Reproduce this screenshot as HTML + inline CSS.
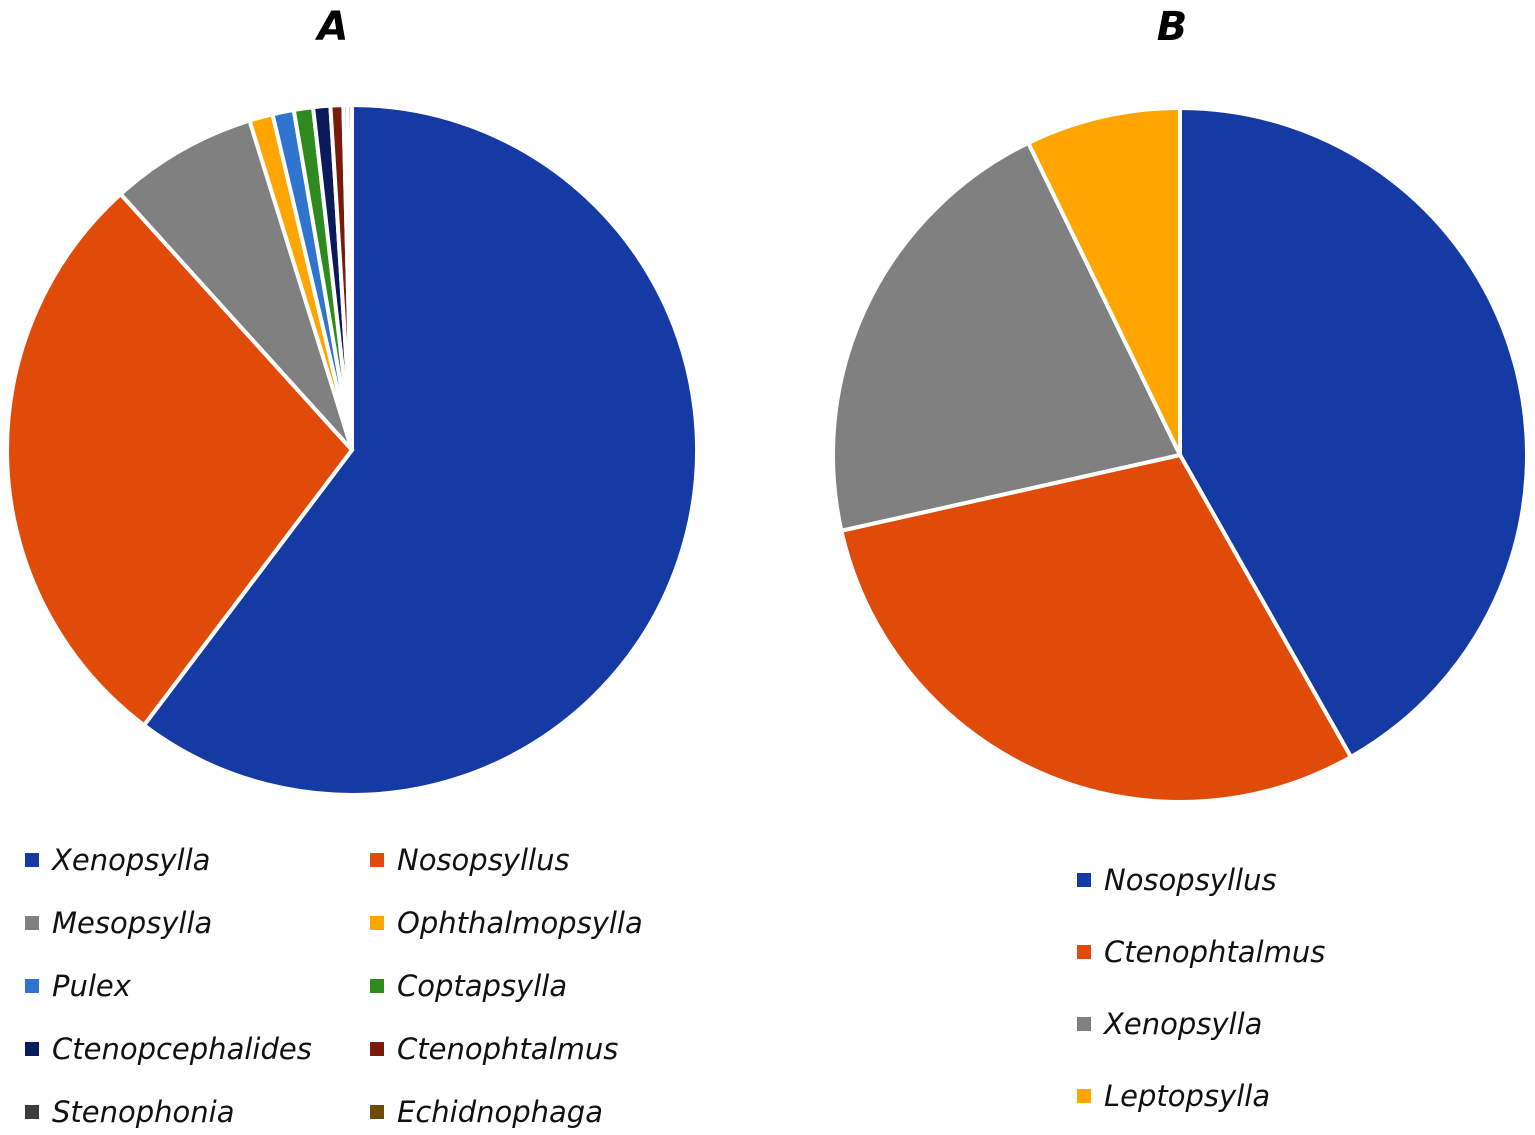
<!DOCTYPE html>
<html><head><meta charset="utf-8"><style>
body{margin:0;background:#fff;}
svg{display:block;font-family:"DejaVu Sans","Liberation Sans",sans-serif;}
</style></head><body>
<svg id="c" width="1535" height="1135">
<text x="333" y="40" font-size="40" font-weight="bold" font-style="italic" text-anchor="middle">A</text>
<text x="1172" y="40" font-size="40" font-weight="bold" font-style="italic" text-anchor="middle">B</text>
<g id="pa"></g>
<g id="pb"></g>
<g id="la"></g>
<g id="lb"></g>
</svg>
<script>
const catsA=["Xenopsylla","Nosopsyllus","Mesopsylla","Ophthalmopsylla","Pulex","Coptapsylla","Ctenopcephalides","Ctenophtalmus","Stenophonia","Echidnophaga"];
const valsA=[60.3,28.0,6.9,1.1,1.0,0.9,0.8,0.6,0.2,0.2];
const colsA=["#163aa3","#e04b0a","#808080","#ffa500","#2f75d0","#2e8a1c","#0b1a5a","#7a1a0a","#3c3c3c","#704a0a"];
const catsB=["Nosopsyllus","Ctenophtalmus","Xenopsylla","Leptopsylla"];
const valsB=[41.8,29.7,21.3,7.2];
const colsB=["#163aa3","#e04b0a","#808080","#ffa500"];
const NS="http://www.w3.org/2000/svg";
function pie(g,vals,cols,cx,cy,r,names){
  const tot=vals.reduce((a,b)=>a+b,0);let a0=0;
  vals.forEach((v,i)=>{
    const a1=a0+v/tot*2*Math.PI;
    const p=document.createElementNS(NS,"path");
    const x0=cx+r*Math.sin(a0),y0=cy-r*Math.cos(a0),x1=cx+r*Math.sin(a1),y1=cy-r*Math.cos(a1);
    p.setAttribute("d",`M${cx},${cy}L${x0},${y0}A${r},${r} 0 ${a1-a0>Math.PI?1:0} 1 ${x1},${y1}Z`);
    p.setAttribute("fill",cols[i]);p.setAttribute("stroke","#fff");p.setAttribute("stroke-width","4");
    
    
    g.appendChild(p);a0=a1;
  });
}
function legend(g,names,cols,positions){
  names.forEach((n,i)=>{
    const [x,y]=positions[i];
    const e=document.createElementNS(NS,"g");
    
    
    const r=document.createElementNS(NS,"rect");
    r.setAttribute("x",x);r.setAttribute("y",y-7);r.setAttribute("width",14);r.setAttribute("height",14);r.setAttribute("fill",cols[i]);
    const t=document.createElementNS(NS,"text");
    t.setAttribute("x",x+27);t.setAttribute("y",y+10);t.setAttribute("font-size","29");t.setAttribute("font-style","italic");t.setAttribute("fill","#111");
    t.textContent=n;e.appendChild(r);e.appendChild(t);g.appendChild(e);
  });
}
pie(document.getElementById("pa"),valsA,colsA,352,450,345,catsA);
pie(document.getElementById("pb"),valsB,colsB,1180,455,347,catsB);
const posA=[];catsA.forEach((_,i)=>posA.push([i%2?370:25,860+Math.floor(i/2)*63]));
legend(document.getElementById("la"),catsA,colsA,posA);
legend(document.getElementById("lb"),catsB,colsB,catsB.map((_,i)=>[1077,880+i*72]));
</script>
</body></html>
